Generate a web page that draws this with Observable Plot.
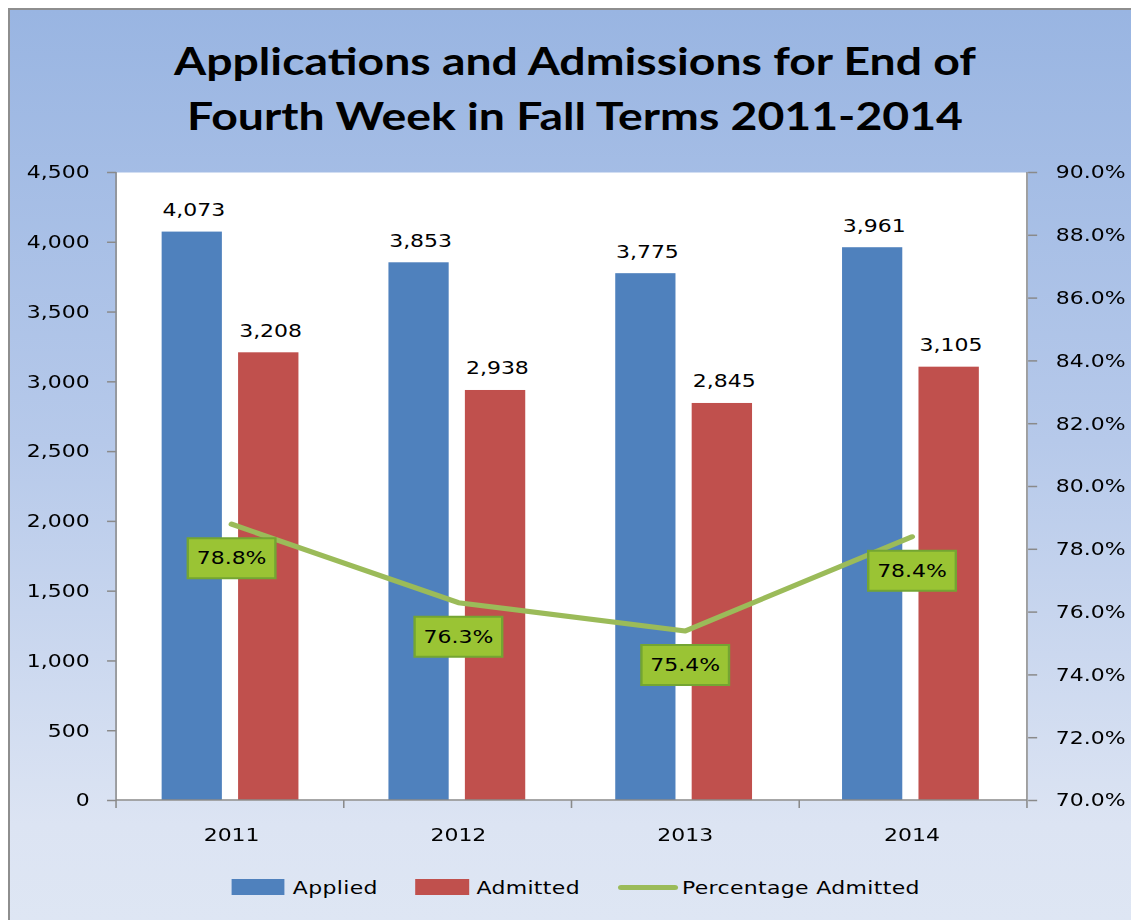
<!DOCTYPE html>
<html>
<head>
<meta charset="utf-8">
<script src="https://cdn.jsdelivr.net/npm/d3@7"></script>
<script src="https://cdn.jsdelivr.net/npm/@observablehq/plot@0.6"></script>
<style>
  html, body { margin: 0; padding: 0; background: #ffffff; width: 1131px; height: 920px; overflow: hidden; }
  #frame {
    position: absolute; left: 8px; top: 8px; width: 1160px; height: 960px;
    border-left: 2px solid #8e8e8e; border-top: 2px solid #8e8e8e;
    box-sizing: border-box;
    background: linear-gradient(to bottom, #99b5e2 0%, #b6c9ea 45%, #dce4f3 85%, #dfe7f4 100%);
  }
  #title {
    position: absolute; left: 0; top: 33px; width: 1150px; text-align: center;
    font-family: Lato, "Open Sans", sans-serif; font-weight: 700; font-size: 38px; line-height: 55px; color: #000;
    transform: scaleX(1.22); transform-origin: 575px 0;
  }
  /* the reference is rendered with horizontally widened glyphs: the chart is drawn at 1/1.2 width and stretched */
  #chart { position: absolute; left: 0; top: 150px; transform: scaleX(1.2); transform-origin: 0 0; }
  #legend {
    position: absolute; left: 0; top: 874px; width: 942px; height: 26px;
    display: flex; align-items: center; padding-left: 193.3px; box-sizing: border-box;
    font-family: "DejaVu Sans", sans-serif; font-size: 18.3px; letter-spacing: 0.3px; color: #000;
    transform: scaleX(1.2); transform-origin: 0 0;
  }
  .item { display: flex; align-items: center; margin-right: 31.5px; }
  .sw { width: 44.2px; height: 16px; margin-right: 6.5px; }
  .ln { width: 50px; height: 5px; border-radius: 3px; margin-right: 3.5px; }
</style>
</head>
<body>
<div id="frame"></div>
<div id="title">Applications and Admissions for End of<br>Fourth Week in Fall Terms 2011-2014</div>
<div id="chart"></div>
<div id="legend"></div>
<script>
// ---- data ----
const years = ["2011", "2012", "2013", "2014"];
const applied = [4073, 3853, 3775, 3961];
const admitted = [3208, 2938, 2845, 3105];
const pctAdmitted = [78.8, 76.3, 75.4, 78.4];
const countTicks = [0, 500, 1000, 1500, 2000, 2500, 3000, 3500, 4000, 4500];
const pctTicks = [70, 72, 74, 76, 78, 80, 82, 84, 86, 88, 90];
const seriesNames = ["Applied", "Admitted", "Percentage Admitted"];
const colors = {Applied: "#4f81bd", Admitted: "#c0504d", "Percentage Admitted": "#9bbb59"};

// secondary axis mapping (percent domain -> count domain)
const countDomain = [0, 4500];
const pctDomain = [70, 90];
const pctToY = d3.scaleLinear().domain(pctDomain).range(countDomain);

const appliedData = years.map((y, i) => ({year: y, value: applied[i]}));
const admittedData = years.map((y, i) => ({year: y, value: admitted[i]}));
const pctData = years.map((y, i) => ({year: y, pct: pctAdmitted[i], yv: pctToY(pctAdmitted[i])}));

const FONT = "DejaVu Sans, sans-serif";
const textStyle = {fontFamily: FONT, fontSize: 18.3};

// rectangle symbol for the percentage label boxes
const boxSymbol = {draw(ctx) { ctx.rect(-36.5, -20, 73, 40); }};

// axis frame lines and category boundary ticks
function frameLines(index, scales, values, dims) {
  const g = d3.create("svg:g").attr("stroke", "#8a8a8a").attr("fill", "none");
  const x0 = dims.marginLeft, x1 = dims.width - dims.marginRight;
  const y0 = dims.marginTop, y1 = dims.height - dims.marginBottom;
  g.append("line").attr("x1", x0).attr("x2", x0).attr("y1", y0).attr("y2", y1).attr("stroke-width", 1.3);
  g.append("line").attr("x1", x1).attr("x2", x1).attr("y1", y0).attr("y2", y1).attr("stroke-width", 1.3);
  g.append("line").attr("x1", x0).attr("x2", x1).attr("y1", y1).attr("y2", y1).attr("stroke-width", 1.6);
  const step = (x1 - x0) / years.length;
  for (let i = 0; i <= years.length; i++) {
    g.append("line").attr("x1", x0 + i * step).attr("x2", x0 + i * step).attr("y1", y1).attr("y2", y1 + 8).attr("stroke-width", 1.3);
  }
  return g.node();
}

const chart = Plot.plot({
  width: 942.5,
  height: 715,
  marginLeft: 96.7,
  marginRight: 86.7,
  marginTop: 22,
  marginBottom: 65,
  style: {background: "transparent", overflow: "visible"},
  x: {type: "band", domain: years, padding: 0},
  y: {domain: countDomain},
  marks: [
    Plot.frame({fill: "white", stroke: null}),
    Plot.barY(appliedData, {x: "year", y: "value", fill: colors.Applied, insetLeft: 36.7, insetRight: 102.1}),
    Plot.barY(admittedData, {x: "year", y: "value", fill: colors.Admitted, insetLeft: 100.4, insetRight: 38.3}),
    Plot.text(appliedData, {x: "year", y: "value", text: d => d3.format(",")(d.value), dx: -31.5, dy: -16, lineAnchor: "bottom", fill: "#000", ...textStyle}),
    Plot.text(admittedData, {x: "year", y: "value", text: d => d3.format(",")(d.value), dx: 32.5, dy: -16, lineAnchor: "bottom", fill: "#000", ...textStyle}),
    Plot.line(pctData, {x: "year", y: "yv", stroke: colors["Percentage Admitted"], strokeWidth: 5, strokeLinejoin: "round", strokeLinecap: "round"}),
    Plot.dot(pctData, {x: "year", y: "yv", dy: 34, symbol: boxSymbol, r: 10, fill: "#9ac434", stroke: "#74a532", strokeWidth: 2}),
    Plot.text(pctData, {x: "year", y: "yv", dy: 34, text: d => d.pct.toFixed(1) + "%", lineAnchor: "middle", fill: "#000", ...textStyle}),
    frameLines,
    Plot.axisY(countTicks, {anchor: "left", tickFormat: d3.format(","), tickSize: 7.5, tickPadding: 15, stroke: "#8a8a8a", strokeWidth: 1.5, label: null, ...textStyle, fill: "#000"}),
    Plot.axisY(pctTicks.map(p => pctToY(p)), {anchor: "right", tickFormat: v => pctToY.invert(v).toFixed(1) + "%", tickSize: 7.5, tickPadding: 16, stroke: "#8a8a8a", strokeWidth: 1.5, label: null, ...textStyle, fill: "#000"}),
    Plot.axisX({anchor: "bottom", tickSize: 0, tickPadding: 27, label: null, ...textStyle, fill: "#000"})
  ]
});
document.getElementById("chart").appendChild(chart);

// legend
const legend = d3.select("#legend");
seriesNames.forEach(name => {
  const item = legend.append("div").attr("class", "item");
  item.append("div").attr("class", name === "Percentage Admitted" ? "ln" : "sw").style("background", colors[name]);
  item.append("span").text(name);
});
</script>
</body>
</html>
